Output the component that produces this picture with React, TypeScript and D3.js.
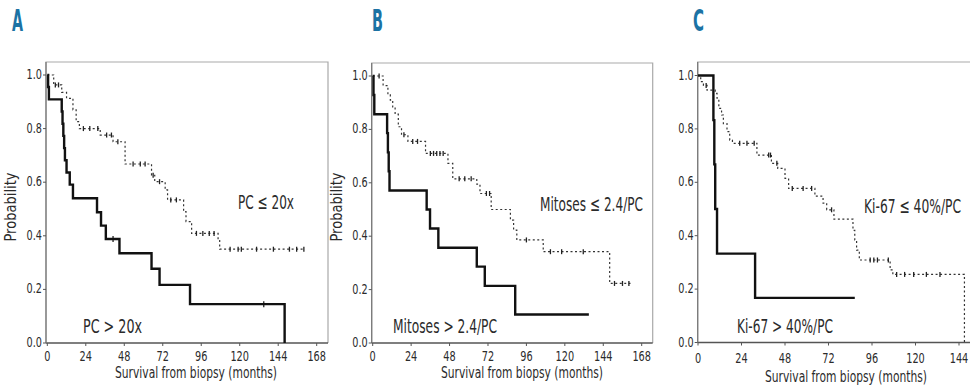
import React from "react";
import * as d3 from "d3";

// shared axes
const xTicks = [0, 24, 48, 72, 96, 120, 144, 168];
const yTicks = [0, 0.2, 0.4, 0.6, 0.8, 1.0];
const xTitle = "Survival from biopsy (months)";
const yTitle = "Probability";

// A: plasma cells
const aLowTime = [0, 4, 9, 12, 16, 18, 20, 33, 41, 48.5, 65, 67, 73.5, 75, 85, 86.5, 90, 106.5, 107.5];
const aLowSurv = [1.0, 0.963, 0.935, 0.913, 0.87, 0.826, 0.8, 0.776, 0.751, 0.668, 0.626, 0.602, 0.571, 0.534, 0.49, 0.453, 0.409, 0.384, 0.35];
const aLowEnd = 160;
const aLowCens = [5, 7, 22.5, 26.5, 31.5, 37, 40, 44, 53.5, 58, 61, 66, 70, 77, 80.5, 93, 97, 101, 104, 114, 119, 121, 130.5, 141, 151, 155.5, 160];
const aHighTime = [0, 0.5, 1, 9, 9.5, 10, 10.5, 11, 12, 14, 16, 31, 33.5, 36.5, 45, 65, 70, 89, 148];
const aHighSurv = [1.0, 0.955, 0.909, 0.864, 0.818, 0.773, 0.727, 0.682, 0.636, 0.591, 0.54, 0.488, 0.438, 0.388, 0.335, 0.277, 0.217, 0.145, 0];
const aHighEnd = 148;
const aHighCens = [41, 135];
const aLabels = ["PC ≤ 20x", "PC > 20x"];

// B: mitoses
const bLowTime = [0, 6.5, 9.5, 11, 12.5, 14, 16, 18, 22, 33, 47, 50, 65, 67, 74, 86, 88, 90, 106.5, 148];
const bLowSurv = [1.0, 0.964, 0.929, 0.91, 0.884, 0.857, 0.81, 0.78, 0.755, 0.71, 0.673, 0.615, 0.595, 0.56, 0.5, 0.46, 0.423, 0.386, 0.342, 0.223];
const bLowEnd = 161;
const bLowCens = [4, 19.5, 25, 28, 36, 38, 40, 42, 44, 54, 57.5, 61.5, 71, 73, 96, 111, 118, 131.5, 151, 156, 160];
const bHighTime = [0, 0.5, 1, 9, 9.5, 10, 10.5, 33.7, 35.8, 41, 65, 70, 89];
const bHighSurv = [1.0, 0.929, 0.857, 0.786, 0.714, 0.643, 0.571, 0.5, 0.429, 0.357, 0.286, 0.214, 0.107];
const bHighEnd = 135;
const bHighCens: number[] = [];
const bLabels = ["Mitoses ≤ 2.4/PC", "Mitoses > 2.4/PC"];

// C: Ki-67
const cLowTime = [0, 1.5, 3, 5, 9.5, 10.5, 11.5, 13, 14, 16, 17.5, 19, 32.5, 40.5, 44, 48, 50, 64.5, 69, 71, 75, 85.5, 86.5, 87.5, 89, 106, 107.5, 147];
const cLowSurv = [1.0, 0.977, 0.963, 0.945, 0.933, 0.915, 0.877, 0.852, 0.82, 0.79, 0.758, 0.746, 0.702, 0.671, 0.652, 0.615, 0.577, 0.548, 0.522, 0.497, 0.462, 0.42, 0.384, 0.346, 0.309, 0.272, 0.255, 0];
const cLowEnd = 147;
const cLowCens = [4.5, 23, 27, 31, 39, 40, 43.5, 52, 58, 62.7, 73.7, 95, 97, 99, 105, 109.6, 114, 119, 126, 133.5];
const cHighTime = [0, 8.5, 9, 9.5, 10.5, 31.5];
const cHighSurv = [1.0, 0.833, 0.667, 0.5, 0.333, 0.167];
const cHighEnd = 86.5;
const cHighCens: number[] = [];
const cLabels = ["Ki-67 ≤ 40%/PC", "Ki-67 > 40%/PC"];

const FONT = "'Liberation Sans Narrow', 'DejaVu Sans Condensed', 'Roboto Condensed', sans-serif";
const INK = "#2b2b2b";

type Curve = { time: number[]; surv: number[]; end: number; cens: number[] };

const survAt = (c: Curve, t: number) => {
  let s = c.surv[0];
  c.time.forEach((tt, i) => { if (tt <= t) s = c.surv[i]; });
  return s;
};

// narrow numerals like the printed figure
const numWidth = (s: string) => s.replace(".", "").length * 6.2 + (s.includes(".") ? 3 : 0);

const Panel = ({ letter, lx, frame, xr, yr, low, high, labels, lay, showY }: any) => {
  const x = d3.scaleLinear().domain([0, 168]).range(xr);
  const y = d3.scaleLinear().domain([0, 1]).range(yr);
  const line = d3.line<[number, number]>()
    .x(d => x(d[0]))
    .y(d => y(d[1]))
    .curve(d3.curveStepAfter);
  const pts = (c: Curve) => {
    const p: [number, number][] = c.time.map((t, i) => [t, c.surv[i]]);
    if (c.end > c.time[c.time.length - 1]) p.push([c.end, c.surv[c.surv.length - 1]]);
    return p;
  };
  return (
    <g fontFamily={FONT}>
      <text x={lx} y={31} fontSize={30} fontWeight="bold" fill="#1b72a4"
        textLength={11} lengthAdjust="spacingAndGlyphs">{letter}</text>
      <path d={`M${frame.l},${frame.b}V${frame.t}H${frame.r}V${frame.b}`} fill="none" stroke="#a9a9a9" strokeWidth={1.2} />
      <line x1={frame.l} x2={frame.r} y1={frame.b} y2={frame.b} stroke="#555" strokeWidth={1.4} />
      <line x1={frame.l} x2={frame.l} y1={frame.t} y2={frame.b} stroke="#777" strokeWidth={1.2} />
      {yTicks.map(t => (
        <g key={t}>
          <line x1={frame.l - 3} x2={frame.l} y1={y(t)} y2={y(t)} stroke="#555" />
          <text x={frame.l - 4} y={y(t) + 4} fontSize={14} textAnchor="end" fill={INK}
            textLength={numWidth(t.toFixed(1))} lengthAdjust="spacingAndGlyphs">{t.toFixed(1)}</text>
        </g>
      ))}
      {xTicks.filter(t => x(t) < 960).map(t => (
        <g key={t}>
          <line x1={x(t)} x2={x(t)} y1={frame.b} y2={frame.b + 3} stroke="#555" />
          <text x={x(t)} y={lay.tickY} fontSize={14} textAnchor="middle" fill={INK}
            textLength={numWidth(String(t))} lengthAdjust="spacingAndGlyphs">{t}</text>
        </g>
      ))}
      <text x={lay.titleX} y={lay.titleY} fontSize={15} textAnchor="middle" fill={INK}
        textLength={162} lengthAdjust="spacingAndGlyphs">{xTitle}</text>
      {showY && (
        <text transform={`translate(${frame.l - 30},${207}) rotate(-90)`} fontSize={15} textAnchor="middle"
          fill={INK} textLength={69} lengthAdjust="spacingAndGlyphs">{yTitle}</text>
      )}
      <path d={line(pts(low)) || ""} fill="none" stroke="#333" strokeWidth={1.2} strokeDasharray="2,2.5" />
      {low.cens.map((t: number, i: number) => (
        <line key={i} x1={x(t)} x2={x(t)} y1={y(survAt(low, t)) - 2.5} y2={y(survAt(low, t)) + 2.5} stroke="#222" strokeWidth={1.3} />
      ))}
      <path d={line(pts(high)) || ""} fill="none" stroke="#111" strokeWidth={2.4} />
      {high.cens.map((t: number, i: number) => (
        <line key={i} x1={x(t)} x2={x(t)} y1={y(survAt(high, t)) - 3} y2={y(survAt(high, t)) + 3} stroke="#111" strokeWidth={1.2} />
      ))}
      <text x={lay.l1[0]} y={lay.l1[1]} fontSize={20} fill={INK} textLength={lay.l1[2]} lengthAdjust="spacingAndGlyphs">{labels[0]}</text>
      <text x={lay.l2[0]} y={lay.l2[1]} fontSize={20} fill={INK} textLength={lay.l2[2]} lengthAdjust="spacingAndGlyphs">{labels[1]}</text>
    </g>
  );
};

export default function App() {
  return (
    <svg width={970} height={386} style={{ position: "absolute", left: 0, top: 0, background: "#fff" }}>
      <Panel letter="A" lx={12} frame={{ l: 46, t: 62, r: 328, b: 343 }} xr={[47.3, 316.7]} yr={[343, 75]}
        low={{ time: aLowTime, surv: aLowSurv, end: aLowEnd, cens: aLowCens }}
        high={{ time: aHighTime, surv: aHighSurv, end: aHighEnd, cens: aHighCens }}
        labels={aLabels} showY
        lay={{ tickY: 361, titleX: 196, titleY: 378, l1: [238, 209, 56], l2: [83, 333, 59] }} />
      <Panel letter="B" lx={372} frame={{ l: 371.7, t: 63, r: 652.7, b: 343 }} xr={[372.7, 641.7]} yr={[343, 76]}
        low={{ time: bLowTime, surv: bLowSurv, end: bLowEnd, cens: bLowCens }}
        high={{ time: bHighTime, surv: bHighSurv, end: bHighEnd, cens: bHighCens }}
        labels={bLabels} showY
        lay={{ tickY: 361, titleX: 522, titleY: 378, l1: [540, 211, 103], l2: [393, 333, 104] }} />
      <Panel letter="C" lx={693} frame={{ l: 697.7, t: 62, r: 975, b: 342.5 }} xr={[698, 1002.5]} yr={[342.5, 75.5]}
        low={{ time: cLowTime, surv: cLowSurv, end: cLowEnd, cens: cLowCens }}
        high={{ time: cHighTime, surv: cHighSurv, end: cHighEnd, cens: cHighCens }}
        labels={cLabels} showY={false}
        lay={{ tickY: 363, titleX: 846, titleY: 382, l1: [864, 213, 97], l2: [737, 333, 96] }} />
    </svg>
  );
}
